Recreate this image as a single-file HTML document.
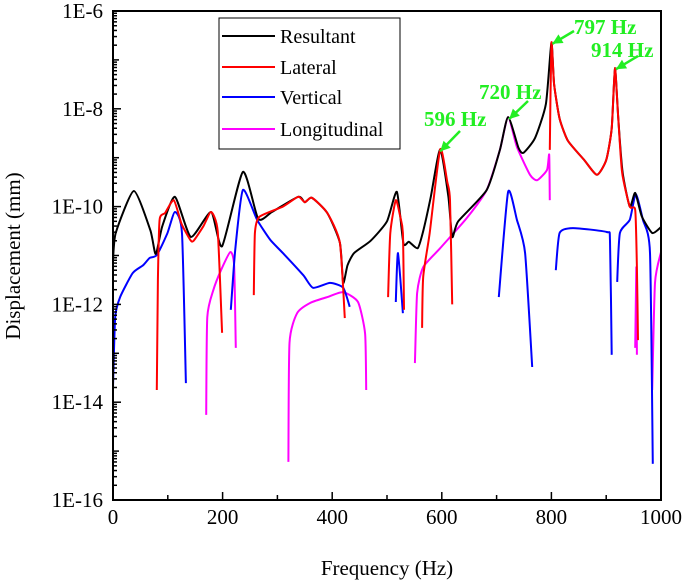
<!DOCTYPE html>
<html><head><meta charset="utf-8">
<style>
html,body{margin:0;padding:0;background:#fff;}
svg text{font-family:"Liberation Serif",serif;}
</style></head>
<body>
<svg id="chart" width="685" height="582" viewBox="0 0 685 582" xmlns="http://www.w3.org/2000/svg">
<g id="marks"></g>
<rect x="113" y="11" width="548" height="489" fill="none" stroke="#000" stroke-width="2"/>
<g id="axes"></g>
<g>
<rect x="219" y="18" width="181" height="131" fill="#fff" stroke="#000" stroke-width="1"/>
<line x1="222" y1="36" x2="275" y2="36" stroke="#000" stroke-width="2"/>
<text x="280" y="43" font-size="20">Resultant</text>
<line x1="222" y1="67" x2="275" y2="67" stroke="#ff0000" stroke-width="2"/>
<text x="280" y="74" font-size="20">Lateral</text>
<line x1="222" y1="97" x2="275" y2="97" stroke="#0000ff" stroke-width="2"/>
<text x="280" y="104" font-size="20">Vertical</text>
<line x1="222" y1="129" x2="275" y2="129" stroke="#ff00ff" stroke-width="2"/>
<text x="280" y="136" font-size="20">Longitudinal</text>
</g>
<g fill="#22ee22" font-weight="bold" font-size="21">
<text x="424" y="126" font-family="Liberation Serif,serif">596 Hz</text>
<text x="479" y="99" font-family="Liberation Serif,serif">720 Hz</text>
<text x="574" y="34" font-family="Liberation Serif,serif">797 Hz</text>
<text x="591" y="57" font-family="Liberation Serif,serif">914 Hz</text>
</g>
<text x="387" y="575" font-size="21" text-anchor="middle">Frequency (Hz)</text>
<text transform="translate(20,256) rotate(-90)" font-size="21" text-anchor="middle">Displacement (mm)</text>
</svg>
<script>
// Data: frequency (Hz) and log10 displacement (mm); null breaks segments
const resultantF = [0,5,38,68,78,90,113,142,179,199,237,265,290,338,350,363,391,414,420,428,440,470,500,518,530,540,556,566,580,597,612,619,630,682,706,721,740,749,770,790,800,805,815,830,860,883,900,910,916,922,930,943,953,965,984,1000];
const resultantE = [-11.09,-10.54,-9.68,-10.48,-10.97,-10.4,-9.80,-10.62,-10.11,-10.81,-9.29,-10.25,-10.11,-9.80,-9.91,-9.82,-10.13,-10.74,-11.56,-11.2,-10.95,-10.7,-10.3,-9.70,-10.75,-10.72,-10.85,-10.5,-9.8,-8.83,-9.8,-10.62,-10.3,-9.66,-8.84,-8.17,-8.8,-8.90,-8.6,-7.9,-6.65,-7.5,-8.2,-8.65,-9.05,-9.35,-9.05,-8.4,-7.17,-8.2,-9.3,-10.0,-9.72,-10.2,-10.54,-10.42];
const lateralF = [80,82,85,95,111,125,141,147,165,179,191,199,null,257,259,267,310,338,350,363,391,414,423,null,502,506,516,524,529,531,null,564,566,578,597,610,615,619,null,797,800,805,815,830,860,883,900,910,916,922,929,943,953,956,958];
const lateralE = [-13.75,-11.5,-10.27,-10.13,-9.87,-10.35,-10.68,-10.7,-10.4,-10.11,-10.5,-12.58,null,-11.81,-10.54,-10.21,-10.0,-9.80,-9.91,-9.82,-10.13,-10.74,-12.28,null,-11.85,-10.54,-9.87,-10.2,-10.54,-12.11,null,-12.48,-11.44,-10.54,-8.83,-9.5,-9.87,-12.0,null,-8.84,-6.65,-7.5,-8.2,-8.65,-9.05,-9.35,-9.05,-8.4,-7.17,-8.2,-9.3,-10.0,-10.07,-11.24,-12.73];
const verticalF = [0,4,13,36,55,67,80,99,113,126,133,null,215,223,237,263,287,310,347,365,396,420,432,null,516,520,529,null,704,721,737,752,765,null,808,815,839,901,907,910,null,920,925,943,954,967,980,985];
const verticalE = [-13.69,-12.26,-11.85,-11.36,-11.2,-11.05,-10.99,-10.55,-10.11,-10.55,-13.61,null,-12.11,-10.89,-9.66,-10.27,-10.68,-10.95,-11.4,-11.66,-11.56,-11.66,-12.05,null,-11.95,-10.95,-12.18,null,-11.85,-9.70,-10.27,-10.95,-13.28,null,-11.30,-10.54,-10.44,-10.52,-10.7,-13.03,null,-11.54,-10.54,-10.27,-9.74,-10.27,-10.95,-15.26];
const longitudinalF = [170,172,183,197,214,221,224,null,320,322,336,360,391,420,447,460,462,null,551,555,566,597,646,682,706,721,737,761,774,792,796,797,null,953,955,956,null,984,989,1000];
const longitudinalE = [-14.26,-12.26,-11.71,-11.30,-10.93,-11.2,-12.89,null,-15.22,-12.79,-12.18,-11.97,-11.85,-11.75,-11.95,-12.6,-13.75,null,-13.20,-11.77,-11.24,-10.85,-10.23,-9.66,-8.84,-8.17,-8.78,-9.35,-9.46,-9.25,-8.94,-9.87,null,-12.89,-11.24,-13.03,null,-13.75,-11.56,-10.93];
const xTicks = [0,200,400,600,800,1000];
const yTicks = [-6,-8,-10,-12,-14,-16];

const X0=113, X1=661, Y0=11, Y1=500;
function xs(f){return X0+(f-0)/1000*(X1-X0);}
function ys(e){return Y0+(-6-e)/10*(Y1-Y0);}
const NS='http://www.w3.org/2000/svg';
const marks=document.getElementById('marks');
const axes=document.getElementById('axes');
function segPath(pts){
  let d='M'+pts[0][0].toFixed(1)+' '+pts[0][1].toFixed(1);
  for(let i=0;i<pts.length-1;i++){
    const p0=pts[Math.max(0,i-1)],p1=pts[i],p2=pts[i+1],p3=pts[Math.min(pts.length-1,i+2)];
    const k=1/10;
    const c1=[p1[0]+(p2[0]-p0[0])*k,p1[1]+(p2[1]-p0[1])*k];
    const c2=[p2[0]-(p3[0]-p1[0])*k,p2[1]-(p3[1]-p1[1])*k];
    d+=` C${c1[0].toFixed(1)} ${c1[1].toFixed(1)} ${c2[0].toFixed(1)} ${c2[1].toFixed(1)} ${p2[0].toFixed(1)} ${p2[1].toFixed(1)}`;
  }
  return d+' ';
}
function drawSeries(F,E,color,name){
  let d='',seg=[];
  for(let i=0;i<=F.length;i++){
    if(i===F.length||F[i]===null){ if(seg.length) d+=segPath(seg); seg=[]; continue;}
    seg.push([xs(F[i]),ys(E[i])]);
  }
  const p=document.createElementNS(NS,'path');
  p.setAttribute('d',d);p.setAttribute('fill','none');p.setAttribute('stroke',color);
  p.setAttribute('stroke-width','2');p.setAttribute('stroke-linejoin','round');
  
  
  marks.appendChild(p);
}
drawSeries(longitudinalF,longitudinalE,'#ff00ff','series-longitudinal');
drawSeries(verticalF,verticalE,'#0000ff','series-vertical');
drawSeries(resultantF,resultantE,'#000000','series-resultant');
drawSeries(lateralF,lateralE,'#ff0000','series-lateral');

function ln(x1,y1,x2,y2,name){
  const l=document.createElementNS(NS,'line');
  l.setAttribute('x1',x1);l.setAttribute('y1',y1);l.setAttribute('x2',x2);l.setAttribute('y2',y2);
  l.setAttribute('stroke','#000');l.setAttribute('stroke-width','1.5');
  
  
  axes.appendChild(l);
}
function tx(x,y,s,anchor,name){
  const t=document.createElementNS(NS,'text');
  t.setAttribute('x',x);t.setAttribute('y',y);t.setAttribute('font-size','21');
  t.setAttribute('text-anchor',anchor);t.textContent=s;
  
  
  axes.appendChild(t);
}
for(let f=0;f<=1000;f+=100){
  const major=f%200===0;
  ln(xs(f),Y1,xs(f),Y1-(major?8:5),'x-tick');
}
xTicks.forEach(f=>tx(xs(f),Y1+24,String(f),'middle','x-tick-label'));
for(let e=-16;e<-6;e++){
  for(let m=1;m<10;m++){
    const y=ys(e+Math.log10(m));
    const len=m===1?(e%2===0?8:6):4;
    ln(X0,y,X0+len,y,'y-tick');
  }
}
yTicks.forEach(e=>tx(103,ys(e)+7,'1E'+e,'end','y-tick-label'));

function arrow(x1,y1,x2,y2,name){
  const l=document.createElementNS(NS,'line');
  l.setAttribute('x1',x1);l.setAttribute('y1',y1);l.setAttribute('x2',x2);l.setAttribute('y2',y2);
  l.setAttribute('stroke','#22ee22');l.setAttribute('stroke-width','2.5');
  
  
  axes.appendChild(l);
  const a=Math.atan2(y2-y1,x2-x1),L=10,W=5;
  const bx=x2-L*Math.cos(a),by=y2-L*Math.sin(a);
  const p=document.createElementNS(NS,'polygon');
  p.setAttribute('points',`${x2},${y2} ${bx+W*Math.sin(a)},${by-W*Math.cos(a)} ${bx-W*Math.sin(a)},${by+W*Math.cos(a)}`);
  p.setAttribute('fill','#22ee22');
  
  
  axes.appendChild(p);
}
arrow(460,131,xs(597),ys(-8.83)+2,'arrow-596hz');
arrow(528,101,xs(721)+1,ys(-8.17)+2,'arrow-720hz');
arrow(574,31,xs(800)+1,ys(-6.65)+1,'arrow-797hz');
arrow(638,56,xs(916)+1,ys(-7.17)+1,'arrow-914hz');
</script>
</body></html>
